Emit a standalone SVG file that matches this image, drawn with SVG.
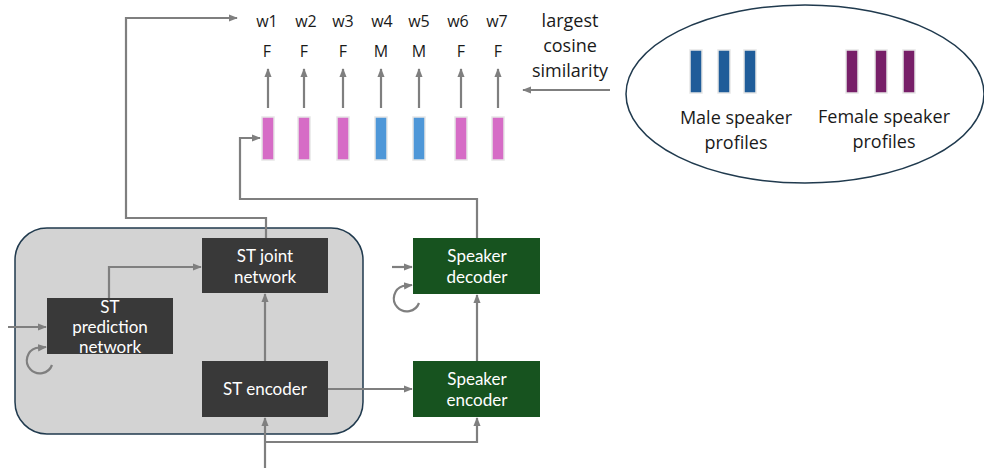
<svg xmlns="http://www.w3.org/2000/svg" width="984" height="468" viewBox="0 0 984 468">
<defs>
<marker id="ah" viewBox="0 0 10 10" refX="9" refY="5" markerWidth="9" markerHeight="9" orient="auto" markerUnits="userSpaceOnUse">
<path d="M0,1 L10,5 L0,9 Z" fill="#7f7f7f"/>
</marker>
<style>
.t{font-family:"Open Sans","Noto Sans","DejaVu Sans",sans-serif;font-size:18px;fill:#1a1a1a;text-anchor:middle}
.s{font-family:"Open Sans","Noto Sans","DejaVu Sans",sans-serif;font-size:16px;fill:#1a1a1a;text-anchor:middle}
.w{font-family:Lato,"Open Sans","DejaVu Sans",sans-serif;font-size:17px;fill:#ffffff;text-anchor:middle}
.c{fill:none;stroke:#7f7f7f;stroke-width:2.2}
.a{marker-end:url(#ah)}
.dk{fill:#393939}
.gr{fill:#17531f}
.pk{fill:#d66cc6;stroke:#e6e6e6;stroke-width:1.5}
.bl{fill:#4e97d8;stroke:#e6e6e6;stroke-width:1.5}
.mb{fill:#1f5c99;stroke:#e6e6e6;stroke-width:1.5}
.fb{fill:#771f68;stroke:#e6e6e6;stroke-width:1.5}
</style>
</defs>
<rect id="st-container" x="15" y="228" width="348" height="206" rx="32" fill="#d3d3d3" stroke="#203a4e" stroke-width="1.5"/>
<g id="profiles">
<ellipse cx="805" cy="94" rx="179" ry="89" fill="#ffffff" stroke="#203a4e" stroke-width="1.5"/>
<rect class="mb" x="690" y="50" width="12" height="43"/>
<rect class="mb" x="718" y="50" width="12" height="43"/>
<rect class="mb" x="744" y="50" width="12" height="43"/>
<rect class="fb" x="846" y="50" width="12" height="43"/>
<rect class="fb" x="875" y="50" width="12" height="43"/>
<rect class="fb" x="903" y="50" width="12" height="43"/>
<text class="t" x="736" y="124">Male speaker</text>
<text class="t" x="736" y="149">profiles</text>
<text class="t" x="884" y="123">Female speaker</text>
<text class="t" x="884" y="148">profiles</text>
</g>
<g id="embeddings">
<rect class="pk" x="262" y="117" width="12" height="43"/>
<rect class="pk" x="298" y="117" width="12" height="43"/>
<rect class="pk" x="337" y="117" width="12" height="43"/>
<rect class="bl" x="375" y="117" width="12" height="43"/>
<rect class="bl" x="413" y="117" width="12" height="43"/>
<rect class="pk" x="455" y="117" width="12" height="43"/>
<rect class="pk" x="492" y="117" width="12" height="43"/>
</g>
<g id="labels">
<text class="s" x="267" y="27">w1</text>
<text class="s" x="306" y="27">w2</text>
<text class="s" x="343" y="27">w3</text>
<text class="s" x="382" y="27">w4</text>
<text class="s" x="419" y="27">w5</text>
<text class="s" x="458" y="27">w6</text>
<text class="s" x="497" y="27">w7</text>
<text class="s" x="267" y="57">F</text>
<text class="s" x="304" y="57">F</text>
<text class="s" x="343" y="57">F</text>
<text class="s" x="381" y="57">M</text>
<text class="s" x="419" y="57">M</text>
<text class="s" x="461" y="57">F</text>
<text class="s" x="498" y="57">F</text>
<text class="t" x="570" y="27">largest</text>
<text class="t" x="570" y="52">cosine</text>
<text class="t" x="570" y="77">similarity</text>
</g>
<g id="st-joint"><rect class="dk" x="202" y="238" width="126" height="55"/><text class="w" x="265" y="262">ST joint</text><text class="w" x="265" y="283">network</text></g>
<g id="st-prediction"><rect class="dk" x="47" y="298" width="126" height="56"/><text class="w" x="110" y="313">ST</text><text class="w" x="110" y="333">prediction</text><text class="w" x="110" y="353">network</text></g>
<g id="st-encoder"><rect class="dk" x="202" y="361" width="126" height="56"/><text class="w" x="265" y="395">ST encoder</text></g>
<g id="spk-decoder"><rect class="gr" x="413" y="238" width="127" height="56"/><text class="w" x="477" y="262">Speaker</text><text class="w" x="477" y="283">decoder</text></g>
<g id="spk-encoder"><rect class="gr" x="413" y="361" width="127" height="56"/><text class="w" x="477" y="385">Speaker</text><text class="w" x="477" y="406">encoder</text></g>
<g id="connectors">
<path class="c a" d="M268,108 V69"/>
<path class="c a" d="M304,108 V69"/>
<path class="c a" d="M343,108 V69"/>
<path class="c a" d="M381,108 V69"/>
<path class="c a" d="M419,108 V69"/>
<path class="c a" d="M461,108 V69"/>
<path class="c a" d="M498,108 V69"/>
<path class="c a" d="M610,90 H523"/>
<path class="c a" d="M266,238 V218 H126 V18 H237"/>
<path class="c a" d="M477,238 V199 H240 V138 H260"/>
<path class="c a" d="M109,298 V267 H201"/>
<path class="c a" d="M265,361 V294"/>
<path class="c a" d="M328,389 H412"/>
<path class="c a" d="M265,468 V418"/>
<path class="c a" d="M265,442 H477 V418"/>
<path class="c a" d="M477,361 V295"/>
<path class="c a" d="M8,327 H46"/>
<path class="c a" d="M392,267 H412"/>
<path class="c a" d="M52,365 A13,13 0 1 1 36,348 L46,347"/>
<path class="c a" d="M419,303 A13,13 0 1 1 403,286 L412,285"/>
</g>
</svg>
